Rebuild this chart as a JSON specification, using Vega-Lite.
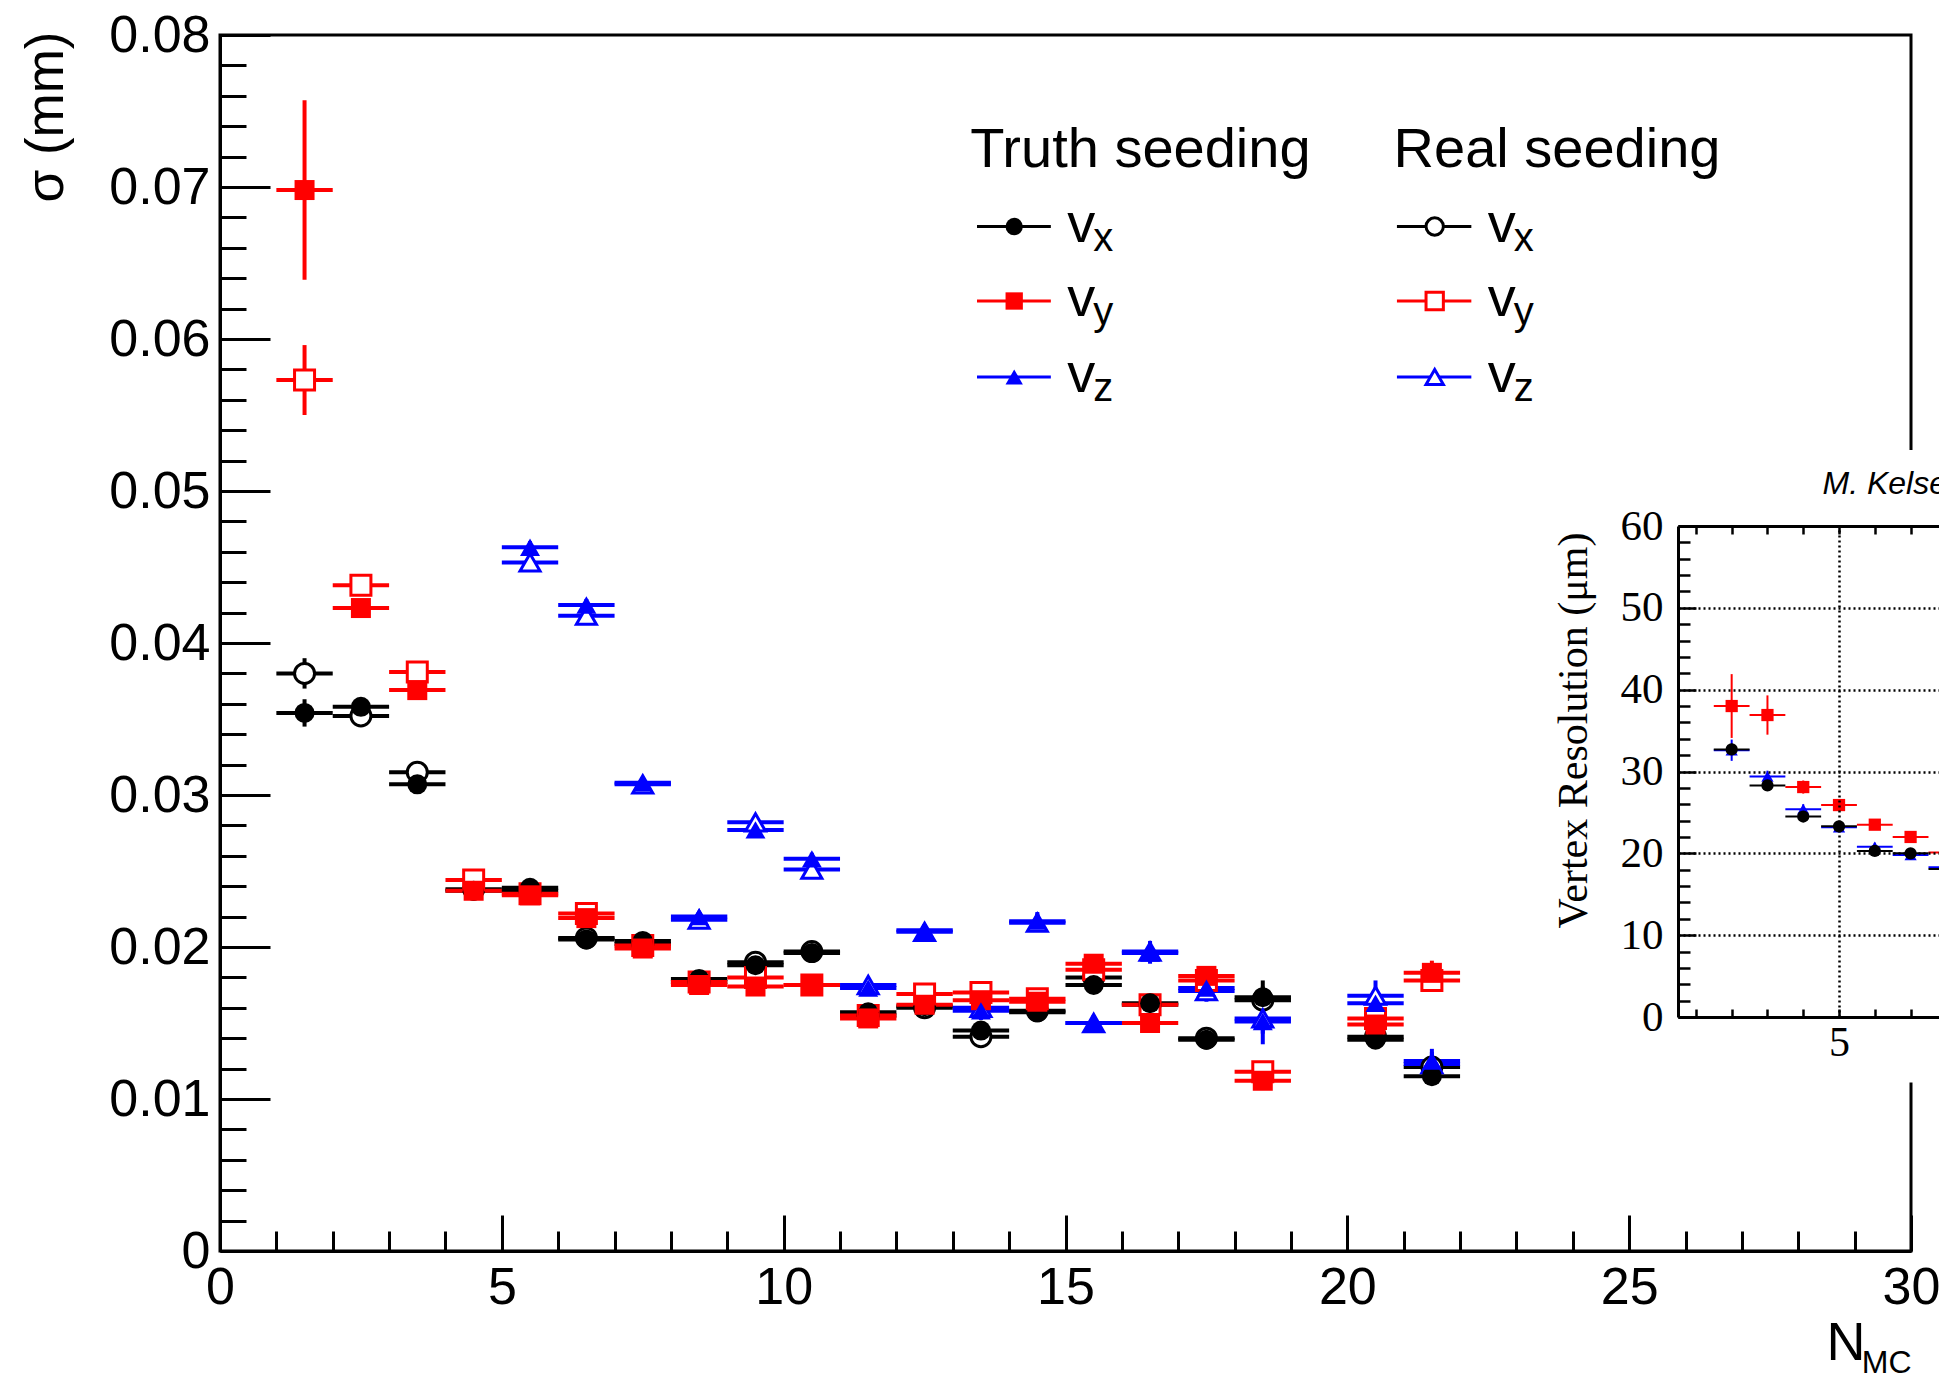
{
  "$schema": "https://vega.github.io/schema/vega-lite/v6.json",
  "width": 1691,
  "height": 1216,
  "autosize": {"type": "none"},
  "padding": {"left": 220, "top": 35, "right": 28, "bottom": 129},
  "background": "white",
  "config": {
    "font": "Liberation Sans",
    "view": {"stroke": "black", "strokeWidth": 3},
    "axis": {"domainColor": "black", "tickColor": "black", "labelColor": "black", "titleColor": "black", "domainWidth": 3, "tickWidth": 3, "grid": false, "titleFontWeight": "normal", "labelFlush": false, "labelOverlap": false}
  },
  "datasets": {
    "main": [
      {"n":1.5,"n_lo":1,"n_hi":2,"c":"vx","seed":"truth","sigma":0.0354,"lo":0.0345,"hi":0.0363},
      {"n":2.5,"n_lo":2,"n_hi":3,"c":"vx","seed":"truth","sigma":0.0358,"lo":0.0353,"hi":0.0363},
      {"n":3.5,"n_lo":3,"n_hi":4,"c":"vx","seed":"truth","sigma":0.0307,"lo":0.0303,"hi":0.0311},
      {"n":4.5,"n_lo":4,"n_hi":5,"c":"vx","seed":"truth","sigma":0.0237,"lo":0.0234,"hi":0.0240},
      {"n":5.5,"n_lo":5,"n_hi":6,"c":"vx","seed":"truth","sigma":0.0239,"lo":0.0236,"hi":0.0242},
      {"n":6.5,"n_lo":6,"n_hi":7,"c":"vx","seed":"truth","sigma":0.0205,"lo":0.0202,"hi":0.0208},
      {"n":7.5,"n_lo":7,"n_hi":8,"c":"vx","seed":"truth","sigma":0.0204,"lo":0.0201,"hi":0.0207},
      {"n":8.5,"n_lo":8,"n_hi":9,"c":"vx","seed":"truth","sigma":0.0179,"lo":0.0176,"hi":0.0182},
      {"n":9.5,"n_lo":9,"n_hi":10,"c":"vx","seed":"truth","sigma":0.0188,"lo":0.0185,"hi":0.0191},
      {"n":10.5,"n_lo":10,"n_hi":11,"c":"vx","seed":"truth","sigma":0.0196,"lo":0.0192,"hi":0.0200},
      {"n":11.5,"n_lo":11,"n_hi":12,"c":"vx","seed":"truth","sigma":0.0157,"lo":0.0153,"hi":0.0161},
      {"n":12.5,"n_lo":12,"n_hi":13,"c":"vx","seed":"truth","sigma":0.0161,"lo":0.0157,"hi":0.0165},
      {"n":13.5,"n_lo":13,"n_hi":14,"c":"vx","seed":"truth","sigma":0.0145,"lo":0.0141,"hi":0.0149},
      {"n":14.5,"n_lo":14,"n_hi":15,"c":"vx","seed":"truth","sigma":0.0157,"lo":0.0153,"hi":0.0161},
      {"n":15.5,"n_lo":15,"n_hi":16,"c":"vx","seed":"truth","sigma":0.0175,"lo":0.0170,"hi":0.0180},
      {"n":16.5,"n_lo":16,"n_hi":17,"c":"vx","seed":"truth","sigma":0.0163,"lo":0.0158,"hi":0.0168},
      {"n":17.5,"n_lo":17,"n_hi":18,"c":"vx","seed":"truth","sigma":0.0139,"lo":0.0133,"hi":0.0145},
      {"n":18.5,"n_lo":18,"n_hi":19,"c":"vx","seed":"truth","sigma":0.0167,"lo":0.0156,"hi":0.0178},
      {"n":20.5,"n_lo":20,"n_hi":21,"c":"vx","seed":"truth","sigma":0.0139,"lo":0.0133,"hi":0.0145},
      {"n":21.5,"n_lo":21,"n_hi":22,"c":"vx","seed":"truth","sigma":0.0115,"lo":0.0109,"hi":0.0121},

      {"n":1.5,"n_lo":1,"n_hi":2,"c":"vx","seed":"real","sigma":0.0380,"lo":0.0370,"hi":0.0390},
      {"n":2.5,"n_lo":2,"n_hi":3,"c":"vx","seed":"real","sigma":0.0352,"lo":0.0347,"hi":0.0357},
      {"n":3.5,"n_lo":3,"n_hi":4,"c":"vx","seed":"real","sigma":0.0315,"lo":0.0311,"hi":0.0319},
      {"n":4.5,"n_lo":4,"n_hi":5,"c":"vx","seed":"real","sigma":0.0238,"lo":0.0235,"hi":0.0241},
      {"n":5.5,"n_lo":5,"n_hi":6,"c":"vx","seed":"real","sigma":0.0237,"lo":0.0234,"hi":0.0240},
      {"n":6.5,"n_lo":6,"n_hi":7,"c":"vx","seed":"real","sigma":0.0206,"lo":0.0203,"hi":0.0209},
      {"n":7.5,"n_lo":7,"n_hi":8,"c":"vx","seed":"real","sigma":0.0202,"lo":0.0199,"hi":0.0205},
      {"n":8.5,"n_lo":8,"n_hi":9,"c":"vx","seed":"real","sigma":0.0177,"lo":0.0174,"hi":0.0180},
      {"n":9.5,"n_lo":9,"n_hi":10,"c":"vx","seed":"real","sigma":0.0190,"lo":0.0187,"hi":0.0193},
      {"n":10.5,"n_lo":10,"n_hi":11,"c":"vx","seed":"real","sigma":0.0197,"lo":0.0193,"hi":0.0201},
      {"n":11.5,"n_lo":11,"n_hi":12,"c":"vx","seed":"real","sigma":0.0155,"lo":0.0151,"hi":0.0159},
      {"n":12.5,"n_lo":12,"n_hi":13,"c":"vx","seed":"real","sigma":0.0160,"lo":0.0156,"hi":0.0164},
      {"n":13.5,"n_lo":13,"n_hi":14,"c":"vx","seed":"real","sigma":0.0141,"lo":0.0137,"hi":0.0145},
      {"n":14.5,"n_lo":14,"n_hi":15,"c":"vx","seed":"real","sigma":0.0158,"lo":0.0154,"hi":0.0162},
      {"n":15.5,"n_lo":15,"n_hi":16,"c":"vx","seed":"real","sigma":0.0180,"lo":0.0175,"hi":0.0185},
      {"n":16.5,"n_lo":16,"n_hi":17,"c":"vx","seed":"real","sigma":0.0162,"lo":0.0157,"hi":0.0167},
      {"n":17.5,"n_lo":17,"n_hi":18,"c":"vx","seed":"real","sigma":0.0140,"lo":0.0134,"hi":0.0146},
      {"n":18.5,"n_lo":18,"n_hi":19,"c":"vx","seed":"real","sigma":0.0165,"lo":0.0156,"hi":0.0174},
      {"n":20.5,"n_lo":20,"n_hi":21,"c":"vx","seed":"real","sigma":0.0141,"lo":0.0135,"hi":0.0147},
      {"n":21.5,"n_lo":21,"n_hi":22,"c":"vx","seed":"real","sigma":0.0121,"lo":0.0115,"hi":0.0127},

      {"n":1.5,"n_lo":1,"n_hi":2,"c":"vy","seed":"truth","sigma":0.0698,"lo":0.0639,"hi":0.0757},
      {"n":2.5,"n_lo":2,"n_hi":3,"c":"vy","seed":"truth","sigma":0.0423,"lo":0.0417,"hi":0.0429},
      {"n":3.5,"n_lo":3,"n_hi":4,"c":"vy","seed":"truth","sigma":0.0369,"lo":0.0364,"hi":0.0374},
      {"n":4.5,"n_lo":4,"n_hi":5,"c":"vy","seed":"truth","sigma":0.0237,"lo":0.0234,"hi":0.0240},
      {"n":5.5,"n_lo":5,"n_hi":6,"c":"vy","seed":"truth","sigma":0.0234,"lo":0.0231,"hi":0.0237},
      {"n":6.5,"n_lo":6,"n_hi":7,"c":"vy","seed":"truth","sigma":0.0219,"lo":0.0216,"hi":0.0222},
      {"n":7.5,"n_lo":7,"n_hi":8,"c":"vy","seed":"truth","sigma":0.0199,"lo":0.0196,"hi":0.0202},
      {"n":8.5,"n_lo":8,"n_hi":9,"c":"vy","seed":"truth","sigma":0.0175,"lo":0.0172,"hi":0.0178},
      {"n":9.5,"n_lo":9,"n_hi":10,"c":"vy","seed":"truth","sigma":0.0174,"lo":0.0171,"hi":0.0177},
      {"n":10.5,"n_lo":10,"n_hi":11,"c":"vy","seed":"truth","sigma":0.0175,"lo":0.0171,"hi":0.0179},
      {"n":11.5,"n_lo":11,"n_hi":12,"c":"vy","seed":"truth","sigma":0.0153,"lo":0.0149,"hi":0.0157},
      {"n":12.5,"n_lo":12,"n_hi":13,"c":"vy","seed":"truth","sigma":0.0162,"lo":0.0158,"hi":0.0166},
      {"n":13.5,"n_lo":13,"n_hi":14,"c":"vy","seed":"truth","sigma":0.0165,"lo":0.0161,"hi":0.0169},
      {"n":14.5,"n_lo":14,"n_hi":15,"c":"vy","seed":"truth","sigma":0.0164,"lo":0.0160,"hi":0.0168},
      {"n":15.5,"n_lo":15,"n_hi":16,"c":"vy","seed":"truth","sigma":0.0189,"lo":0.0184,"hi":0.0194},
      {"n":16.5,"n_lo":16,"n_hi":17,"c":"vy","seed":"truth","sigma":0.0150,"lo":0.0145,"hi":0.0155},
      {"n":17.5,"n_lo":17,"n_hi":18,"c":"vy","seed":"truth","sigma":0.0181,"lo":0.0175,"hi":0.0187},
      {"n":18.5,"n_lo":18,"n_hi":19,"c":"vy","seed":"truth","sigma":0.0112,"lo":0.0106,"hi":0.0118},
      {"n":20.5,"n_lo":20,"n_hi":21,"c":"vy","seed":"truth","sigma":0.0149,"lo":0.0143,"hi":0.0155},
      {"n":21.5,"n_lo":21,"n_hi":22,"c":"vy","seed":"truth","sigma":0.0183,"lo":0.0175,"hi":0.0191},

      {"n":1.5,"n_lo":1,"n_hi":2,"c":"vy","seed":"real","sigma":0.0573,"lo":0.0550,"hi":0.0596},
      {"n":2.5,"n_lo":2,"n_hi":3,"c":"vy","seed":"real","sigma":0.0438,"lo":0.0432,"hi":0.0444},
      {"n":3.5,"n_lo":3,"n_hi":4,"c":"vy","seed":"real","sigma":0.0381,"lo":0.0376,"hi":0.0386},
      {"n":4.5,"n_lo":4,"n_hi":5,"c":"vy","seed":"real","sigma":0.0244,"lo":0.0241,"hi":0.0247},
      {"n":5.5,"n_lo":5,"n_hi":6,"c":"vy","seed":"real","sigma":0.0235,"lo":0.0232,"hi":0.0238},
      {"n":6.5,"n_lo":6,"n_hi":7,"c":"vy","seed":"real","sigma":0.0222,"lo":0.0219,"hi":0.0225},
      {"n":7.5,"n_lo":7,"n_hi":8,"c":"vy","seed":"real","sigma":0.0201,"lo":0.0198,"hi":0.0204},
      {"n":8.5,"n_lo":8,"n_hi":9,"c":"vy","seed":"real","sigma":0.0177,"lo":0.0174,"hi":0.0180},
      {"n":9.5,"n_lo":9,"n_hi":10,"c":"vy","seed":"real","sigma":0.0180,"lo":0.0177,"hi":0.0183},
      {"n":10.5,"n_lo":10,"n_hi":11,"c":"vy","seed":"real","sigma":0.0175,"lo":0.0171,"hi":0.0179},
      {"n":11.5,"n_lo":11,"n_hi":12,"c":"vy","seed":"real","sigma":0.0155,"lo":0.0151,"hi":0.0159},
      {"n":12.5,"n_lo":12,"n_hi":13,"c":"vy","seed":"real","sigma":0.0169,"lo":0.0165,"hi":0.0173},
      {"n":13.5,"n_lo":13,"n_hi":14,"c":"vy","seed":"real","sigma":0.0170,"lo":0.0166,"hi":0.0174},
      {"n":14.5,"n_lo":14,"n_hi":15,"c":"vy","seed":"real","sigma":0.0166,"lo":0.0162,"hi":0.0170},
      {"n":15.5,"n_lo":15,"n_hi":16,"c":"vy","seed":"real","sigma":0.0185,"lo":0.0180,"hi":0.0190},
      {"n":16.5,"n_lo":16,"n_hi":17,"c":"vy","seed":"real","sigma":0.0162,"lo":0.0157,"hi":0.0167},
      {"n":17.5,"n_lo":17,"n_hi":18,"c":"vy","seed":"real","sigma":0.0178,"lo":0.0172,"hi":0.0184},
      {"n":18.5,"n_lo":18,"n_hi":19,"c":"vy","seed":"real","sigma":0.0118,"lo":0.0112,"hi":0.0124},
      {"n":20.5,"n_lo":20,"n_hi":21,"c":"vy","seed":"real","sigma":0.0153,"lo":0.0147,"hi":0.0159},
      {"n":21.5,"n_lo":21,"n_hi":22,"c":"vy","seed":"real","sigma":0.0178,"lo":0.0171,"hi":0.0185},

      {"n":5.5,"n_lo":5,"n_hi":6,"c":"vz","seed":"truth","sigma":0.0463,"lo":0.0459,"hi":0.0467},
      {"n":6.5,"n_lo":6,"n_hi":7,"c":"vz","seed":"truth","sigma":0.0425,"lo":0.0421,"hi":0.0429},
      {"n":7.5,"n_lo":7,"n_hi":8,"c":"vz","seed":"truth","sigma":0.0308,"lo":0.0305,"hi":0.0311},
      {"n":8.5,"n_lo":8,"n_hi":9,"c":"vz","seed":"truth","sigma":0.0220,"lo":0.0217,"hi":0.0223},
      {"n":9.5,"n_lo":9,"n_hi":10,"c":"vz","seed":"truth","sigma":0.0277,"lo":0.0274,"hi":0.0280},
      {"n":10.5,"n_lo":10,"n_hi":11,"c":"vz","seed":"truth","sigma":0.0258,"lo":0.0254,"hi":0.0262},
      {"n":11.5,"n_lo":11,"n_hi":12,"c":"vz","seed":"truth","sigma":0.0173,"lo":0.0169,"hi":0.0177},
      {"n":12.5,"n_lo":12,"n_hi":13,"c":"vz","seed":"truth","sigma":0.0211,"lo":0.0207,"hi":0.0215},
      {"n":13.5,"n_lo":13,"n_hi":14,"c":"vz","seed":"truth","sigma":0.0158,"lo":0.0152,"hi":0.0164},
      {"n":14.5,"n_lo":14,"n_hi":15,"c":"vz","seed":"truth","sigma":0.0217,"lo":0.0211,"hi":0.0223},
      {"n":15.5,"n_lo":15,"n_hi":16,"c":"vz","seed":"truth","sigma":0.0150,"lo":0.0145,"hi":0.0155},
      {"n":16.5,"n_lo":16,"n_hi":17,"c":"vz","seed":"truth","sigma":0.0196,"lo":0.0189,"hi":0.0203},
      {"n":17.5,"n_lo":17,"n_hi":18,"c":"vz","seed":"truth","sigma":0.0173,"lo":0.0166,"hi":0.0180},
      {"n":18.5,"n_lo":18,"n_hi":19,"c":"vz","seed":"truth","sigma":0.0151,"lo":0.0136,"hi":0.0166},
      {"n":20.5,"n_lo":20,"n_hi":21,"c":"vz","seed":"truth","sigma":0.0163,"lo":0.0153,"hi":0.0173},
      {"n":21.5,"n_lo":21,"n_hi":22,"c":"vz","seed":"truth","sigma":0.0125,"lo":0.0117,"hi":0.0133},

      {"n":5.5,"n_lo":5,"n_hi":6,"c":"vz","seed":"real","sigma":0.0453,"lo":0.0449,"hi":0.0457},
      {"n":6.5,"n_lo":6,"n_hi":7,"c":"vz","seed":"real","sigma":0.0418,"lo":0.0414,"hi":0.0422},
      {"n":7.5,"n_lo":7,"n_hi":8,"c":"vz","seed":"real","sigma":0.0307,"lo":0.0304,"hi":0.0310},
      {"n":8.5,"n_lo":8,"n_hi":9,"c":"vz","seed":"real","sigma":0.0218,"lo":0.0215,"hi":0.0221},
      {"n":9.5,"n_lo":9,"n_hi":10,"c":"vz","seed":"real","sigma":0.0282,"lo":0.0279,"hi":0.0285},
      {"n":10.5,"n_lo":10,"n_hi":11,"c":"vz","seed":"real","sigma":0.0251,"lo":0.0247,"hi":0.0255},
      {"n":11.5,"n_lo":11,"n_hi":12,"c":"vz","seed":"real","sigma":0.0175,"lo":0.0171,"hi":0.0179},
      {"n":12.5,"n_lo":12,"n_hi":13,"c":"vz","seed":"real","sigma":0.0210,"lo":0.0206,"hi":0.0214},
      {"n":13.5,"n_lo":13,"n_hi":14,"c":"vz","seed":"real","sigma":0.0160,"lo":0.0154,"hi":0.0166},
      {"n":14.5,"n_lo":14,"n_hi":15,"c":"vz","seed":"real","sigma":0.0216,"lo":0.0210,"hi":0.0222},
      {"n":15.5,"n_lo":15,"n_hi":16,"c":"vz","seed":"real","sigma":0.0150,"lo":0.0145,"hi":0.0155},
      {"n":16.5,"n_lo":16,"n_hi":17,"c":"vz","seed":"real","sigma":0.0197,"lo":0.0190,"hi":0.0204},
      {"n":17.5,"n_lo":17,"n_hi":18,"c":"vz","seed":"real","sigma":0.0171,"lo":0.0164,"hi":0.0178},
      {"n":18.5,"n_lo":18,"n_hi":19,"c":"vz","seed":"real","sigma":0.0153,"lo":0.0143,"hi":0.0163},
      {"n":20.5,"n_lo":20,"n_hi":21,"c":"vz","seed":"real","sigma":0.0168,"lo":0.0158,"hi":0.0178},
      {"n":21.5,"n_lo":21,"n_hi":22,"c":"vz","seed":"real","sigma":0.0123,"lo":0.0115,"hi":0.0131}
    ],
    "legend": [
      {"seed":"truth","c":"vx","sub":"x","n":14.09,"n_lo":13.43,"n_hi":14.74,"sigma":0.0674},
      {"seed":"truth","c":"vy","sub":"y","n":14.09,"n_lo":13.43,"n_hi":14.74,"sigma":0.0625},
      {"seed":"truth","c":"vz","sub":"z","n":14.09,"n_lo":13.43,"n_hi":14.74,"sigma":0.0575},
      {"seed":"real","c":"vx","sub":"x","n":21.55,"n_lo":20.88,"n_hi":22.2,"sigma":0.0674},
      {"seed":"real","c":"vy","sub":"y","n":21.55,"n_lo":20.88,"n_hi":22.2,"sigma":0.0625},
      {"seed":"real","c":"vz","sub":"z","n":21.55,"n_lo":20.88,"n_hi":22.2,"sigma":0.0575}
    ],
    "legend_head": [
      {"label":"Truth seeding","n":13.31,"sigma":0.0713},
      {"label":"Real seeding","n":20.82,"sigma":0.0713}
    ],
    "inset": [
      {"n":2,"n_lo":1.5,"n_hi":2.5,"c":"vy","um":38.0,"lo":34.1,"hi":41.9},
      {"n":3,"n_lo":2.5,"n_hi":3.5,"c":"vy","um":36.9,"lo":34.5,"hi":39.3},
      {"n":4,"n_lo":3.5,"n_hi":4.5,"c":"vy","um":28.1,"lo":27.3,"hi":28.9},
      {"n":5,"n_lo":4.5,"n_hi":5.5,"c":"vy","um":25.9,"lo":25.2,"hi":26.6},
      {"n":6,"n_lo":5.5,"n_hi":6.5,"c":"vy","um":23.5,"lo":23.0,"hi":24.0},
      {"n":7,"n_lo":6.5,"n_hi":7.5,"c":"vy","um":22.0,"lo":21.5,"hi":22.5},
      {"n":8,"n_lo":7.5,"n_hi":8.5,"c":"vy","um":20.1,"lo":19.6,"hi":20.6},
      {"n":2,"n_lo":1.5,"n_hi":2.5,"c":"vz","um":32.6,"lo":31.3,"hi":33.9},
      {"n":3,"n_lo":2.5,"n_hi":3.5,"c":"vz","um":29.4,"lo":28.7,"hi":30.1},
      {"n":4,"n_lo":3.5,"n_hi":4.5,"c":"vz","um":25.4,"lo":24.8,"hi":26.0},
      {"n":5,"n_lo":4.5,"n_hi":5.5,"c":"vz","um":23.2,"lo":22.6,"hi":23.8},
      {"n":6,"n_lo":5.5,"n_hi":6.5,"c":"vz","um":20.8,"lo":20.3,"hi":21.3},
      {"n":7,"n_lo":6.5,"n_hi":7.5,"c":"vz","um":19.8,"lo":19.3,"hi":20.3},
      {"n":8,"n_lo":7.5,"n_hi":8.5,"c":"vz","um":18.3,"lo":17.8,"hi":18.8},
      {"n":2,"n_lo":1.5,"n_hi":2.5,"c":"vx","um":32.7,"lo":32.0,"hi":33.4},
      {"n":3,"n_lo":2.5,"n_hi":3.5,"c":"vx","um":28.3,"lo":27.8,"hi":28.8},
      {"n":4,"n_lo":3.5,"n_hi":4.5,"c":"vx","um":24.5,"lo":24.0,"hi":25.0},
      {"n":5,"n_lo":4.5,"n_hi":5.5,"c":"vx","um":23.3,"lo":22.8,"hi":23.8},
      {"n":6,"n_lo":5.5,"n_hi":6.5,"c":"vx","um":20.3,"lo":19.9,"hi":20.7},
      {"n":7,"n_lo":6.5,"n_hi":7.5,"c":"vx","um":20.0,"lo":19.6,"hi":20.4},
      {"n":8,"n_lo":7.5,"n_hi":8.5,"c":"vx","um":18.1,"lo":17.7,"hi":18.5}
    ]
  },
  "layer": [
    {
      "data": {"name": "main"},
      "layer": [
        {
          "mark": {"type": "rule", "strokeWidth": 4},
          "encoding": {
            "x": {"field": "n_lo", "type": "quantitative",
              "scale": {"domain": [0, 30], "nice": false, "zero": false},
              "axis": {"orient": "bottom", "values": [0, 5, 10, 15, 20, 25, 30], "tickSize": -36, "labelPadding": 47, "labelFontSize": 52, "domain": true,
                "title": "N", "titleFontSize": 54, "titleX": 1645, "titleY": 108, "titleAlign": "right", "titleBaseline": "alphabetic"}},
            "x2": {"field": "n_hi"},
            "y": {"field": "sigma", "type": "quantitative",
              "scale": {"domain": [0, 0.08], "nice": false, "zero": false},
              "axis": {"orient": "left", "values": [0, 0.01, 0.02, 0.03, 0.04, 0.05, 0.06, 0.07, 0.08], "labelExpr": "datum.value == 0 ? '0' : format(datum.value, '.2f')",
                "tickSize": -50, "labelPadding": 60, "labelFontSize": 52,
                "title": "σ (mm)", "titleFontSize": 53, "titleAngle": -90, "titleX": -158, "titleY": -4, "titleAlign": "right", "titleBaseline": "alphabetic"}},
            "color": {"field": "c", "type": "nominal", "scale": {"domain": ["vx", "vy", "vz"], "range": ["#000000", "#ff0000", "#0000ff"]}, "legend": null}
          }
        },
        {
          "mark": {"type": "rule", "strokeWidth": 4},
          "encoding": {
            "x": {"field": "n", "type": "quantitative",
              "axis": {"orient": "bottom", "values": [1,2,3,4,6,7,8,9,11,12,13,14,16,17,18,19,21,22,23,24,26,27,28,29], "tickSize": -20, "labels": false, "domain": false, "title": null}},
            "y": {"field": "lo", "type": "quantitative",
              "axis": {"orient": "left", "values": [0.002,0.004,0.006,0.008,0.012,0.014,0.016,0.018,0.022,0.024,0.026,0.028,0.032,0.034,0.036,0.038,0.042,0.044,0.046,0.048,0.052,0.054,0.056,0.058,0.062,0.064,0.066,0.068,0.072,0.074,0.076,0.078], "tickSize": -26, "labels": false, "domain": false, "title": null}},
            "y2": {"field": "hi"},
            "color": {"field": "c", "type": "nominal", "legend": null}
          }
        },
        {
          "transform": [{"filter": "datum.seed === 'real'"}],
          "mark": {"type": "point", "filled": false, "fill": "white", "fillOpacity": 1, "strokeWidth": 3, "size": 400, "opacity": 1},
          "encoding": {
            "x": {"field": "n", "type": "quantitative",
              "axis": {"orient": "bottom", "title": "MC", "ticks": false, "labels": false, "domain": false, "titleFontSize": 32, "titleX": 1691, "titleY": 121, "titleAlign": "right", "titleBaseline": "alphabetic"}},
            "y": {"field": "sigma", "type": "quantitative", "axis": null},
            "shape": {"field": "c", "type": "nominal", "scale": {"domain": ["vx", "vy", "vz"], "range": ["circle", "square", "triangle-up"]}, "legend": null},
            "color": {"field": "c", "type": "nominal", "legend": null}
          }
        },
        {
          "transform": [{"filter": "datum.seed === 'truth'"}],
          "mark": {"type": "point", "filled": true, "size": 400, "opacity": 1},
          "encoding": {
            "x": {"field": "n", "type": "quantitative", "axis": null},
            "y": {"field": "sigma", "type": "quantitative", "axis": null},
            "shape": {"field": "c", "type": "nominal", "legend": null},
            "color": {"field": "c", "type": "nominal", "legend": null}
          }
        },
        {
          "data": {"name": "legend_head"},
          "mark": {"type": "text", "align": "left", "baseline": "alphabetic", "fontSize": 56, "color": "black"},
          "encoding": {
            "x": {"field": "n", "type": "quantitative", "axis": null},
            "y": {"field": "sigma", "type": "quantitative", "axis": null},
            "text": {"field": "label"}
          }
        },
        {
          "data": {"name": "legend"},
          "mark": {"type": "rule", "strokeWidth": 3},
          "encoding": {
            "x": {"field": "n_lo", "type": "quantitative", "axis": null},
            "x2": {"field": "n_hi"},
            "y": {"field": "sigma", "type": "quantitative", "axis": null},
            "color": {"field": "c", "type": "nominal", "legend": null}
          }
        },
        {
          "data": {"name": "legend"},
          "transform": [{"filter": "datum.seed === 'real'"}],
          "mark": {"type": "point", "filled": false, "fill": "white", "fillOpacity": 1, "strokeWidth": 3, "size": 300, "opacity": 1},
          "encoding": {
            "x": {"field": "n", "type": "quantitative", "axis": null},
            "y": {"field": "sigma", "type": "quantitative", "axis": null},
            "shape": {"field": "c", "type": "nominal", "legend": null},
            "color": {"field": "c", "type": "nominal", "legend": null}
          }
        },
        {
          "data": {"name": "legend"},
          "transform": [{"filter": "datum.seed === 'truth'"}],
          "mark": {"type": "point", "filled": true, "size": 300, "opacity": 1},
          "encoding": {
            "x": {"field": "n", "type": "quantitative", "axis": null},
            "y": {"field": "sigma", "type": "quantitative", "axis": null},
            "shape": {"field": "c", "type": "nominal", "legend": null},
            "color": {"field": "c", "type": "nominal", "legend": null}
          }
        },
        {
          "data": {"name": "legend"},
          "mark": {"type": "text", "align": "left", "baseline": "alphabetic", "fontSize": 56, "dx": 53, "dy": 15, "color": "black"},
          "encoding": {
            "x": {"field": "n", "type": "quantitative", "axis": null},
            "y": {"field": "sigma", "type": "quantitative", "axis": null},
            "text": {"value": "v"}
          }
        },
        {
          "data": {"name": "legend"},
          "mark": {"type": "text", "align": "left", "baseline": "alphabetic", "fontSize": 40, "dx": 79, "dy": 24, "color": "black"},
          "encoding": {
            "x": {"field": "n", "type": "quantitative", "axis": null},
            "y": {"field": "sigma", "type": "quantitative", "axis": null},
            "text": {"field": "sub"}
          }
        }
      ],
      "resolve": {"axis": {"x": "independent", "y": "independent"}}
    },
    {
      "data": {"name": "inset"},
      "layer": [
        {
          "data": {"values": [{}]},
          "mark": {"type": "rect", "fill": "white", "stroke": null},
          "encoding": {
            "x": {"datum": -3.8, "type": "quantitative", "scale": {"domain": [0.5, 8.94], "range": [1458, 1760], "nice": false, "zero": false}, "axis": null},
            "x2": {"datum": 9.5},
            "y": {"datum": -8, "type": "quantitative", "scale": {"domain": [0, 60], "range": [982, 491], "nice": false, "zero": false}, "axis": null},
            "y2": {"datum": 69.3}
          }
        },
        {
          "mark": {"type": "rule", "strokeWidth": 2},
          "encoding": {
            "x": {"field": "n_lo", "type": "quantitative",
              "axis": {"orient": "bottom", "offset": -234, "zindex": 1, "values": [1,2,3,4,5,6,7,8], "tickSize": -8, "tickWidth": 2.5, "domainWidth": 3,
                "labelExpr": "datum.value == 5 ? '5' : ''", "labelFont": "Liberation Serif", "labelFontSize": 42, "labelPadding": 13, "title": null}},
            "x2": {"field": "n_hi"},
            "y": {"field": "um", "type": "quantitative",
              "axis": {"orient": "left", "offset": -1458, "zindex": 1, "values": [0, 10, 20, 30, 40, 50, 60], "tickSize": -18, "tickWidth": 2.5, "domainWidth": 3,
                "labelFont": "Liberation Serif", "labelFontSize": 43, "labelPadding": 33,
                "grid": true, "gridColor": "black", "gridDash": [2, 3], "gridWidth": 2.5,
                "title": "Vertex Resolution (μm)", "titleFont": "Liberation Serif", "titleFontSize": 42, "titleAngle": -90, "titleX": -105, "titleY": 695, "titleAlign": "center", "titleBaseline": "middle"}},
            "color": {"field": "c", "type": "nominal", "legend": null}
          }
        },
        {
          "mark": {"type": "rule", "strokeWidth": 2},
          "encoding": {
            "x": {"field": "n", "type": "quantitative",
              "axis": {"orient": "top", "offset": -491, "zindex": 1, "values": [1,2,3,4,5,6,7,8], "tickSize": -8, "tickWidth": 2.5, "domainWidth": 3, "labels": false,
                "title": "M. Kelsey", "titleFontStyle": "italic", "titleFontSize": 32, "titleX": 1602, "titleY": -33, "titleAlign": "left", "titleBaseline": "alphabetic"}},
            "y": {"field": "lo", "type": "quantitative",
              "axis": {"orient": "left", "offset": -1458, "zindex": 1, "values": [2,4,6,8,12,14,16,18,22,24,26,28,32,34,36,38,42,44,46,48,52,54,56,58], "tickSize": -12, "tickWidth": 2.5, "labels": false, "domain": false, "title": null}},
            "y2": {"field": "hi"},
            "color": {"field": "c", "type": "nominal", "legend": null}
          }
        },
        {
          "mark": {"type": "point", "filled": true, "size": 150, "opacity": 1},
          "encoding": {
            "x": {"field": "n", "type": "quantitative",
              "axis": {"orient": "top", "offset": 0, "zindex": 1, "values": [5], "ticks": false, "labels": false, "domain": false,
                "grid": true, "gridColor": "black", "gridDash": [2, 3], "gridWidth": 2.5, "title": null}},
            "y": {"field": "um", "type": "quantitative", "axis": null},
            "shape": {"field": "c", "type": "nominal", "legend": null},
            "color": {"field": "c", "type": "nominal", "legend": null}
          }
        }
      ],
      "resolve": {"axis": {"x": "independent", "y": "independent"}}
    }
  ],
  "resolve": {"scale": {"x": "independent", "y": "independent"}, "axis": {"x": "independent", "y": "independent"}}
}
